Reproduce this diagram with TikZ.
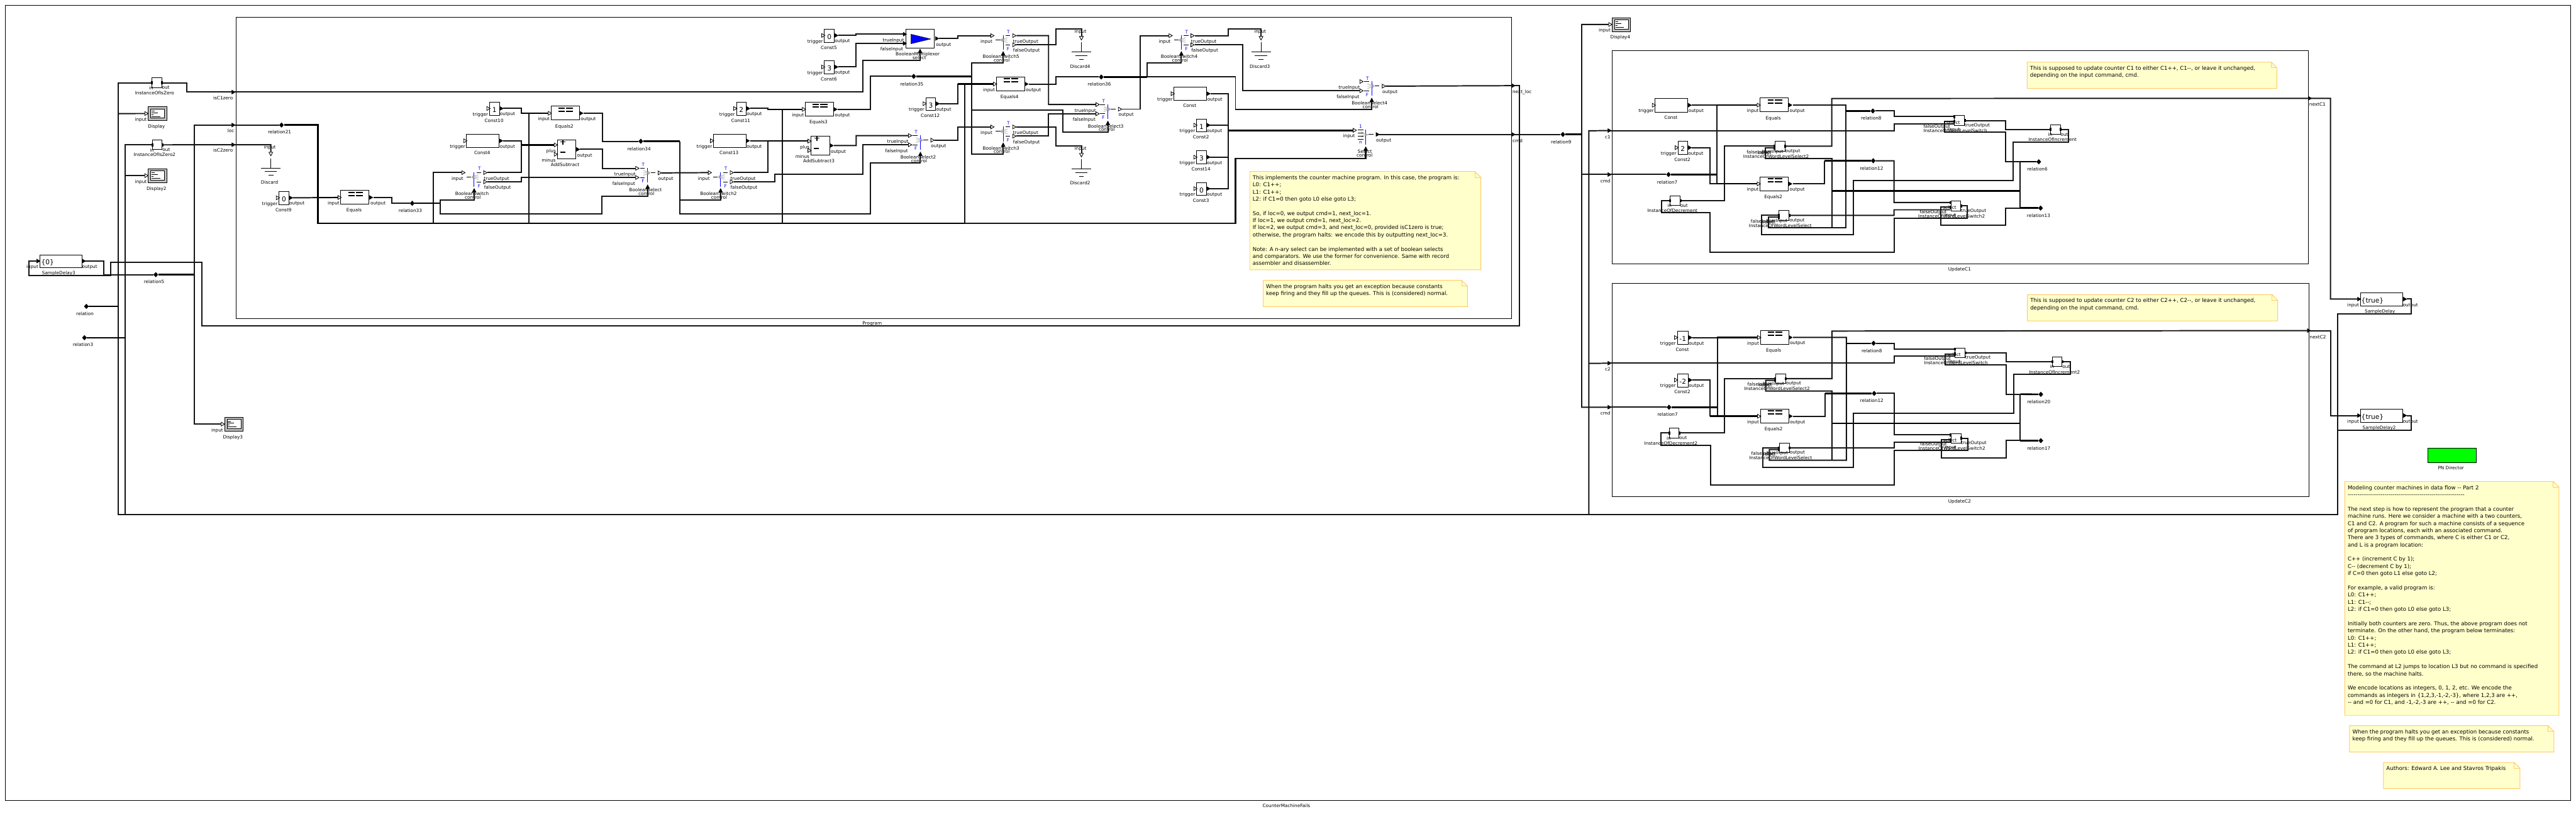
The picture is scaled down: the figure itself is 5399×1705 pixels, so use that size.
\documentclass[tikz,border=0pt]{standalone}
\usepackage{fontspec}
\newfontfamily\dv{DejaVu Sans}
\usetikzlibrary{shapes.geometric}
\definecolor{notefill}{HTML}{FFFFCC}
\definecolor{noteline}{HTML}{FFCC66}
\definecolor{wirec}{HTML}{141414}
\definecolor{dispgray}{HTML}{BFBFBF}
\definecolor{fangray}{HTML}{A8A8A8}
\tikzset{
 frame/.style={draw=black,line width=1.4pt,inner sep=0pt,outer sep=0pt,anchor=north west},
 blk/.style={draw=black,fill=white,line width=1.3pt,inner sep=0pt,outer sep=0pt,anchor=north west},
 wire/.style={draw=wirec,line width=2.6pt,line join=miter},
 bus/.style={draw=black,line width=3.4pt},
 hbus/.style={draw=black,line width=4pt},
 thin/.style={draw=black,line width=1.4pt},
 lab/.style={font=\dv\fontsize{9.6}{11}\selectfont,inner sep=0pt,text=black},
 bluelab/.style={font=\dv\fontsize{9.6}{11}\selectfont,inner sep=0pt,text=blue},
 vallab/.style={font=\dv\fontsize{14}{16}\selectfont,inner sep=0pt,text=black},
 notetxt/.style={font=\dv\fontsize{11.3}{15}\selectfont,inner sep=0pt,anchor=north west,align=left,text=black},
 rel/.style={diamond,fill=black,inner sep=0pt,minimum width=10pt,minimum height=11pt,aspect=1},
 portin/.style={draw=black,fill=white,line width=1.1pt},
 portfill/.style={draw=black,fill=black,line width=0.8pt},
 notebox/.style={draw=noteline,fill=notefill,line width=1.3pt},
 fan/.style={draw=fangray,line width=1pt},
 bluel/.style={draw=blue,line width=1.3pt},
}
\newcounter{lbc}
\newcommand\Lb[3]{\stepcounter{lbc}\node[lab] (lb\arabic{lbc}) at (#1,#2) {#3};}
\newcommand\Lc[3]{\stepcounter{lbc}\node[bluelab] (lb\arabic{lbc}) at (#1,#2) {#3};}
\newcommand\Vl[3]{\stepcounter{lbc}\node[vallab] (lb\arabic{lbc}) at (#1,#2) {#3};}
\newcommand\PIn[2]{\draw[portin] (#1,#2-4) -- (#1+7,#2) -- (#1,#2+4) -- cycle;}
\newcommand\PFl[2]{\draw[portfill] (#1,#2-4) -- (#1+7,#2) -- (#1,#2+4) -- cycle;}
\newcommand\PUp[2]{\draw[portfill] (#1-4,#2+8) -- (#1,#2) -- (#1+4,#2+8) -- cycle;}
\newcommand\ConstN[6][20.4]{%
 \node[blk,minimum width=#1,minimum height=27.4] (#2) at (#3,#4) {};
 \Vl{#3+#1/2}{#4+16}{#5}
 \PIn{#3-6}{#4+13}\PFl{#3+#1+1}{#4+13}
 \coordinate (#2-i) at (#3-6,#4+13);
 \coordinate (#2-o) at (#3+#1+8,#4+13);
 \Lb{#3-19.5}{#4+25.7}{trigger}\Lb{#3+#1+17}{#4+25.7}{output}\Lb{#3+#1/2-1}{#4+38.2}{#6}}
\newcommand\ConstB[4]{%
 \node[blk,minimum width=68.5,minimum height=28.3] (#1) at (#2,#3) {};
 \PIn{#2-6}{#3+14}\PFl{#2+69}{#3+14}
 \coordinate (#1-o) at (#2+77,#3+14);
 \Lb{#2-18.7}{#3+26.6}{trigger}\Lb{#2+85.8}{#3+26.6}{output}\Lb{#2+33}{#3+39.6}{#4}}
\newcommand\EqB[4]{%
 \node[blk,minimum width=59.4,minimum height=29] (#1) at (#2,#3) {};
 \foreach \yy in {4,10.3}{\draw[draw=black,line width=2.6pt] (#2+16,#3+\yy) -- (#2+28.5,#3+\yy) (#2+31.5,#3+\yy) -- (#2+46.4,#3+\yy);}
 \PIn{#2-6}{#3+14.8}\PFl{#2+60}{#3+14.8}
 \coordinate (#1-i) at (#2-6,#3+14.8);
 \coordinate (#1-o) at (#2+68.5,#3+14.8);
 \Lb{#2-15.2}{#3+27.6}{input}\Lb{#2+78}{#3+27.6}{output}\Lb{#2+27.8}{#3+42.5}{#4}}
\newcommand\AddB[4]{%
 \node[blk,minimum width=38.9,minimum height=39] (#1) at (#2,#3) {};
 \draw[draw=black,line width=2.4pt] (#2+7,#3+4) -- (#2+17.5,#3+4) (#2+12.2,#3-1) -- (#2+12.2,#3+9.5);
 \draw[draw=black,line width=2.4pt] (#2+6.5,#3+25.7) -- (#2+17,#3+25.7);
 \PIn{#2-6.4}{#3+10.4}\PIn{#2-6.4}{#3+30}\PFl{#2+40}{#3+19.7}
 \coordinate (#1-p) at (#2-6.4,#3+10.4);
 \coordinate (#1-m) at (#2-6.4,#3+30);
 \coordinate (#1-o) at (#2+48,#3+19.7);
 \Lb{#2-12.9}{#3+24}{plus}\Lb{#2-18}{#3+42.7}{minus}\Lb{#2+57.4}{#3+32.7}{output}\Lb{#2+16.5}{#3+52.4}{#4}}
\newcommand\SwB[4]{%
 \draw[bluel] (#2,#3-10) -- (#2,#3+20.7);
 \draw[fan] (#2-5,#3) -- (#2+9,#3-5) (#2-5,#3) -- (#2+9,#3) (#2-5,#3) -- (#2+9,#3+5) (#2-5,#3) -- (#2-1,#3-4) (#2-5,#3) -- (#2-1,#3+4);
 \draw[thin] (#2-15.5,#3) -- (#2-6,#3) (#2+5,#3-9.3) -- (#2+14.6,#3-9.3) (#2+5,#3+10) -- (#2+14.6,#3+10);
 \PIn{#2-26}{#3-9.3}\PIn{#2+20}{#3-9.3}\PIn{#2+20}{#3+10}\PUp{#2}{#3+24}
 \coordinate (#1-i) at (#2-26,#3-9.3);
 \coordinate (#1-t) at (#2+28,#3-9.3);
 \coordinate (#1-f) at (#2+28,#3+10);
 \coordinate (#1-c) at (#2,#3+32);
 \Lc{#2+11}{#3-17.5}{T}\Lc{#2+10.5}{#3+19}{F}
 \Lb{#2-35}{#3+4}{input}\Lb{#2+47}{#3+4}{trueOutput}\Lb{#2+49}{#3+22.7}{falseOutput}
 \Lb{#2-4.5}{#3+35}{#4}\Lb{#2-3}{#3+42}{control}}
\newcommand\SeB[4]{%
 \draw[bluel] (#2,#3-10) -- (#2,#3+20.5);
 \draw[fan] (#2+5,#3) -- (#2-9,#3-5) (#2+5,#3) -- (#2-9,#3) (#2+5,#3) -- (#2-9,#3+5) (#2+5,#3) -- (#2+1,#3-4) (#2+5,#3) -- (#2+1,#3+4);
 \draw[thin] (#2-16,#3-9.6) -- (#2-5.8,#3-9.6) (#2-16,#3+9.7) -- (#2-5.8,#3+9.7) (#2+6.3,#3) -- (#2+16,#3);
 \PIn{#2-25}{#3-9.6}\PIn{#2-25}{#3+9.7}\PIn{#2+22}{#3}\PUp{#2}{#3+25}
 \coordinate (#1-t) at (#2-25,#3-9.6);
 \coordinate (#1-f) at (#2-25,#3+9.7);
 \coordinate (#1-o) at (#2+29.3,#3);
 \coordinate (#1-c) at (#2,#3+33);
 \Lc{#2-9}{#3-16.6}{T}\Lc{#2-9.6}{#3+17.7}{F}
 \Lb{#2-47.3}{#3+3.7}{trueInput}\Lb{#2-49.8}{#3+22.7}{falseInput}\Lb{#2+38.2}{#3+12.7}{output}
 \Lb{#2-4.5}{#3+35.7}{#4}\Lb{#2-2.6}{#3+43}{control}}
\newcommand\Disp[4]{%
 \node[blk,fill=dispgray,minimum width=38.9,minimum height=29] (#1) at (#2,#3) {};
 \node[blk,minimum width=29,minimum height=19.5,line width=1pt] (#1-in) at (#2+5.4,#3+4.5) {};
 \draw[draw=black,line width=1pt] (#2+7,#3+8.7) -- (#2+13,#3+8.7) (#2+7,#3+12.4) -- (#2+20,#3+12.4) (#2+7,#3+16.4) -- (#2+11,#3+16.4) (#2+7,#3+20.4) -- (#2+25,#3+20.4);
 \PIn{#2-7}{#3+14.4}
 \coordinate (#1-i) at (#2-7,#3+14.4);
 \Lb{#2-15.4}{#3+27.4}{input}\Lb{#2+17.4}{#3+42}{#4}}
\newcommand\Disc[4]{%
 \draw[portin] (#2-4,#3-33) -- (#2+4,#3-33) -- (#2,#3-25.5) -- cycle;
 \draw[thin] (#2,#3-20.4) -- (#2,#3) (#2-20.5,#3) -- (#2+20.5,#3) (#2-13,#3+7) -- (#2+13,#3+7) (#2-5.2,#3+15) -- (#2+5.2,#3+15);
 \coordinate (#1-i) at (#2,#3-33);
 \Lb{#2-2}{#3-42.3}{input}\Lb{#2-2.6}{#3+29.6}{#4}}
\newcommand\SqP[2]{\fill[black] (#1-2,#2-3) rectangle (#1+2,#2+3);}
\newcommand\Inst[8]{%
 \node[blk,minimum width=#4,minimum height=#5] (#1) at (#2,#3) {};
 \SqP{#2}{#3+10.2}\SqP{#2+#4+1}{#3+10.2}
 \coordinate (#1-i) at (#2,#3+10.2);
 \coordinate (#1-o) at (#2+#4+2,#3+10.2);
 \Lb{#2-1}{#3+21}{in}\Lb{#2+#4+8.5}{#3+20.5}{out}\Lb{#7}{#8}{#6}}
\newcommand\ExtP[6]{%
 \PFl{#2}{#3}\coordinate (#1) at (#2+4,#3);\Lb{#5}{#6}{#4}}
\newcommand\WLSel[4]{%
 \node[blk,minimum width=21,minimum height=20.2] (#1) at (#2,#3) {};
 \SqP{#2-1}{#3+10}\SqP{#2-1}{#3+13.8}\SqP{#2+21.5}{#3+10}
 \coordinate (#1-t) at (#2,#3+10);
 \coordinate (#1-f) at (#2,#3+13.6);
 \coordinate (#1-o) at (#2+23,#3+10);
 \Lb{#2-35.4}{#3+23}{falseInput}\Lb{#2-22}{#3+23}{select}\Lb{#2-4.6}{#3+21.6}{trueInput}\Lb{#2+37.5}{#3+20.6}{output}\Lb{#2+2.5}{#3+31.5}{#4}}
\newcommand\WLSw[7]{%
 \node[blk,minimum width=21,minimum height=20.3] (#1) at (#2,#3) {};
 \SqP{#2-1}{#3+#5}\SqP{#2-1}{#3+#6}\SqP{#2+21.5}{#3+10}
 \coordinate (#1-s) at (#2-1,#3+#5);
 \coordinate (#1-l) at (#2-1,#3+#6);
 \coordinate (#1-i) at (#2-1,#3+#7);
 \coordinate (#1-t) at (#2+23,#3+10);
 \Lb{#2-2.8}{#3+13.9}{select}\Lb{#2-37.2}{#3+23.2}{falseOutput}\Lb{#2-1.5}{#3+29.5}{input}\Lb{#2+47.5}{#3+20.4}{trueOutput}\Lb{#2+1.5}{#3+31.1}{#4}}
\newcommand\Note[8]{%
 \draw[notebox] (#2,#3) -- (#6,#3) -- (#4,#7) -- (#4,#5) -- (#2,#5) -- cycle;
 \draw[notebox,fill=none] (#6,#3) -- (#6,#7) -- (#4,#7);
 \node[notetxt] (#1) at (#2+6,#3+6) {\strut #8};}
\begin{document}
\begin{tikzpicture}[x=1pt,y=-1pt]
\fill[white] (0,0) rectangle (5399,1705);
\useasboundingbox (0,0) rectangle (5399,1705);
% containers
\node[frame,minimum width=5376.5,minimum height=1666.5] (top) at (11.5,11) {};
\node[frame,minimum width=2672.5,minimum height=630.5] (prog) at (495.5,36.5) {};
\node[frame,minimum width=1458.6,minimum height=446.8] (upd1) at (3379.3,106.4) {};
\node[frame,minimum width=1459.7,minimum height=447] (upd2) at (3379.3,593.3) {};
\Lb{1828}{678}{Program}
\Lb{2696}{1688}{CounterMachineFails}
\Lb{4107}{564.6}{UpdateC1}
\Lb{4107}{1051.7}{UpdateC2}
% outer blocks
\node[blk,minimum width=88,minimum height=27] (SD3) at (83.5,534) {};
\Vl{100}{549.5}{\{0\}}
\PFl{77}{547}\PFl{172.5}{547}
\coordinate (SD3-i) at (77,547);\coordinate (SD3-o) at (179,547);
\Lb{68}{560}{input}\Lb{188}{560}{output}\Lb{123}{572.5}{SampleDelay3}
\node[blk,minimum width=88.5,minimum height=28] (SD1) at (4947.5,613.3) {};
\Vl{4972.4}{630}{\{true\}}
\PFl{4941}{626.7}\PFl{5037}{626.7}
\coordinate (SD1-i) at (4941,626.7);\coordinate (SD1-o) at (5044,626.7);
\Lb{4931.8}{640}{input}\Lb{5052}{640}{output}\Lb{4988}{652.7}{SampleDelay}
\node[blk,minimum width=88.5,minimum height=28] (SD2) at (4947.5,857.3) {};
\Vl{4972.4}{874}{\{true\}}
\PFl{4941}{870.7}\PFl{5037}{870.7}
\coordinate (SD2-i) at (4941,870.7);\coordinate (SD2-o) at (5044,870.7);
\Lb{4931.8}{884}{input}\Lb{5052}{884}{output}\Lb{4986.5}{896.7}{SampleDelay2}
\node[blk,draw=black,fill=green,minimum width=100.5,minimum height=30] (pnd) at (5089,939.3) {};
\Lb{5137}{981}{PN Director}
\Inst{IsZ1}{318}{163.3}{21}{20.5}{InstanceOfIsZero}{324}{194.4}
\Inst{IsZ2}{319.5}{293.3}{20.5}{20}{InstanceOfIsZero2}{324}{324.5}
\Disp{Disp1}{310.6}{223.5}{Display}
\Disp{Disp2}{310.6}{353.6}{Display2}
\Disp{Disp3}{470.7}{874.3}{Display3}
\Disp{Disp4}{3378.6}{36.9}{Display4}
\node[rel] (rel0) at (181,642) {};\Lb{178}{657.7}{relation}
\node[rel] (rel3) at (177,707.6) {};\Lb{174}{722.5}{relation3}
\node[rel] (rel5) at (326.5,575.5) {};\Lb{323}{590}{relation5}
\node[rel] (rel9) at (3275.6,281.7) {};\Lb{3272}{297.7}{relation9}
% program ports
\ExtP{isC1}{486}{193}{isC1zero}{467.5}{205.6}
\ExtP{loc}{486}{262}{loc}{484}{274}
\ExtP{isC2}{486}{303.3}{isC2zero}{467.5}{315}
\ExtP{nxloc}{3168.5}{179.5}{next\_loc}{3190}{192.7}
\ExtP{cmdout}{3168.5}{281.7}{cmd}{3180.6}{295}
% program blocks
\Disc{Disc1}{567.6}{352}{Discard}
\Disc{Disc4}{2266.5}{109.3}{Discard4}
\Disc{Disc2}{2266.5}{354.3}{Discard2}
\Disc{Disc3}{2643}{109.3}{Discard3}
\ConstN{C9}{585}{401.5}{0}{Const9}
\ConstN{C10}{1026.3}{214.3}{1}{Const10}
\ConstN{C11}{1543.5}{214.3}{2}{Const11}
\ConstN{C5}{1728}{61.3}{0}{Const5}
\ConstN{C6}{1728}{127.3}{3}{Const6}
\ConstN{C12}{1940.6}{204.3}{3}{Const12}
\ConstN{C2}{2508}{249.3}{1}{Const2}
\ConstN{C14}{2508}{316.3}{3}{Const14}
\ConstN{C3}{2508}{382.3}{0}{Const3}
\ConstB{C4}{977.8}{281}{Const4}
\ConstB{C13}{1495}{281}{Const13}
\ConstB{C0}{2460.5}{182.3}{Const}
\EqB{Eq}{714.3}{399}{Equals}
\EqB{Eq2}{1155}{222.5}{Equals2}
\EqB{Eq3}{1687.6}{214.3}{Equals3}
\EqB{Eq4}{2088}{161.3}{Equals4}
\AddB{Add1}{1167.9}{293.3}{AddSubtract}
\AddB{Add3}{1699.7}{285.3}{AddSubtract3}
\SwB{Sw1}{993.8}{371}{BooleanSwitch}
\SwB{Sw2}{1510.3}{371}{BooleanSwitch2}
\SwB{Sw5}{2102.5}{84}{BooleanSwitch5}
\SwB{Sw3}{2102.5}{275.3}{BooleanSwitch3}
\SwB{Sw4}{2476}{84}{BooleanSwitch4}
\SeB{Se1}{1357.3}{362.3}{BooleanSelect}
\SeB{Se2}{1929}{293.7}{BooleanSelect2}
\SeB{Se3}{2322}{228.7}{BooleanSelect3}
\SeB{Se4}{2875}{180.5}{BooleanSelect4}
% multiplexor
\node[blk,minimum width=59.4,minimum height=39.4] (Mux) at (1899,61.3) {};
\fill[blue,draw=black,line width=0.6pt] (1909.3,71.7) -- (1950.8,81.7) -- (1909.3,91.7) -- cycle;
\PFl{1893}{71.7}\PFl{1893}{91}\PFl{1960.5}{80.7}\PUp{1928.4}{103}
\coordinate (Mux-t) at (1893,71.7);\coordinate (Mux-f) at (1893,91);\coordinate (Mux-o) at (1968,80.7);\coordinate (Mux-c) at (1928.4,111);
\Lb{1872.3}{85}{trueInput}\Lb{1869}{104}{falseInput}\Lb{1977.5}{94}{output}\Lb{1923.3}{114}{BooleanMultiplexor}\Lb{1927}{121}{select}
% n-ary select
\draw[bluel] (2862.4,272) -- (2862.4,303.3);
\draw[fan] (2867.4,282.3) -- (2853.4,277.3) (2867.4,282.3) -- (2853.4,282.3) (2867.4,282.3) -- (2853.4,287.3);
\draw[thin] (2846.4,272.7) -- (2858,272.7) (2846.4,278.5) -- (2858,278.5) (2846.4,285) -- (2858,285) (2846.4,291.7) -- (2858,291.7) (2868.7,282) -- (2878.3,282);
\PIn{2836}{273}\PFl{2884}{281.7}\PUp{2862.4}{307.5}
\coordinate (Sel-i) at (2836,273);\coordinate (Sel-o) at (2891,281.7);\coordinate (Sel-c) at (2862.4,315.5);
\Lc{2851.5}{265}{1}\Lc{2851.5}{298.7}{n}\Lb{2827.3}{286}{input}\Lb{2900}{295}{output}\Lb{2860.5}{317.7}{Select}\Lb{2860}{325}{control}
% relations in program
\node[rel] (rel21) at (590,262) {};\Lb{586}{276.5}{relation21}
\node[rel] (rel33) at (864,426) {};\Lb{860}{441.3}{relation33}
\node[rel] (rel34) at (1343,296) {};\Lb{1339.4}{312}{relation34}
\node[rel] (rel35) at (1915,160) {};\Lb{1911}{175.7}{relation35}
\node[rel] (rel36) at (2308,161.3) {};\Lb{2304}{176.7}{relation36}
% notes
\Note{nA}{2619.4}{359.3}{3103.6}{565.3}{3091.3}{371.7}{This implements the counter machine program. In this case, the program is:\\L0: C1++;\\L1: C1++;\\L2: if C1=0 then goto L0 else goto L3;\\\strut\\So, if loc=0, we output cmd=1, next\_loc=1.\\If loc=1, we output cmd=1, next\_loc=2.\\If loc=2, we output cmd=3, and next\_loc=0, provided isC1zero is true;\\otherwise, the program halts: we encode this by outputting next\_loc=3.\\\strut\\Note: A n-ary select can be implemented with a set of boolean selects\\and comparators. We use the former for convenience. Same with record\\assembler and disassembler.}
\Note{nB}{2647.4}{587.3}{3075.5}{642.3}{3063.3}{599.3}{When the program halts you get an exception because constants\\keep firing and they fill up the queues. This is (considered) normal.}
\Note{nC}{4248.6}{130.3}{4772}{185.3}{4760.7}{142.3}{This is supposed to update counter C1 to either C1++, C1--, or leave it unchanged,\\depending on the input command, cmd.}
\Note{nD}{4249}{617.3}{4773.6}{672.3}{4762}{629.3}{This is supposed to update counter C2 to either C2++, C2--, or leave it unchanged,\\depending on the input command, cmd.}
\Note{nE}{4914.3}{1009}{5363.3}{1499}{5351.3}{1020.7}{Modeling counter machines in data flow -- Part 2\\------------------------------------------------------------\\\strut\\The next step is how to represent the program that a counter\\machine runs. Here we consider a machine with a two counters,\\C1 and C2. A program for such a machine consists of a sequence\\of program locations, each with an associated command.\\There are 3 types of commands, where C is either C1 or C2,\\and L is a program location:\\\strut\\C++ (increment C by 1);\\C-- (decrement C by 1);\\if C=0 then goto L1 else goto L2;\\\strut\\For example, a valid program is:\\L0: C1++;\\L1: C1--;\\L2: if C1=0 then goto L0 else goto L3;\\\strut\\Initially both counters are zero. Thus, the above program does not\\terminate. On the other hand, the program below terminates:\\L0: C1++;\\L1: C1++;\\L2: if C1=0 then goto L0 else goto L3;\\\strut\\The command at L2 jumps to location L3 but no command is specified\\there, so the machine halts.\\\strut\\We encode locations as integers, 0, 1, 2, etc. We encode the\\commands as integers in \{1,2,3,-1,-2,-3\}, where 1,2,3 are ++,\\-- and =0 for C1, and -1,-2,-3 are ++, -- and =0 for C2.}
\Note{nF}{4924.3}{1520.7}{5352.7}{1575.5}{5340.3}{1532.7}{When the program halts you get an exception because constants\\keep firing and they fill up the queues. This is (considered) normal.}
\Note{nG}{4995.3}{1597.6}{5281.3}{1652.4}{5269.3}{1609.6}{Authors: Edward A. Lee and Stavros Tripakis}
% UpdateC1
\ExtP{Ac1}{3370}{273.6}{c1}{3369.5}{286.8}
\ExtP{Acmd}{3370}{365.7}{cmd}{3364.6}{379}
\ExtP{Anx}{4838}{206}{nextC1}{4857}{219}
\ConstB{AC0}{3469}{206.4}{Const}
\ConstN{AC2}{3516.8}{296.4}{2}{Const2}
\EqB{AEq}{3688.8}{205.4}{Equals}
\EqB{AEq2}{3688.8}{370.4}{Equals2}
\Inst{ADec}{3500}{410}{21}{20.5}{InstanceOfDecrement}{3505}{441.8}
\Inst{AInc}{4297.9}{261}{20.4}{20.4}{InstanceOfIncrement}{4302}{292.9}
\WLSel{AWS2}{3720}{296.4}{InstanceOfWordLevelSelect2}
\WLSel{AWS1}{3728.8}{441.4}{InstanceOfWordLevelSelect}
\WLSw{ASw1}{4096.5}{242.5}{InstanceOfWordLevelSwitch}{1.8}{12.1}{16.8}
\WLSw{ASw2}{4088.8}{421.4}{InstanceOfWordLevelSwitch2}{2.9}{12.6}{18.2}
\node[rel] (Ar7) at (3497,365.7) {};\Lb{3494.4}{381.8}{relation7}
\node[rel] (Ar8) at (3925.3,232.5) {};\Lb{3921.8}{247.9}{relation8}
\node[rel] (Ar12) at (3926,336.8) {};\Lb{3922.5}{352.9}{relation12}
\node[rel] (Ar6) at (4273,339) {};\Lb{4270}{354.6}{relation6}
\node[rel] (Ar13) at (4276.8,436) {};\Lb{4272.6}{451.8}{relation13}
% UpdateC2
\ExtP{Bc2}{3370}{761}{c2}{3369.5}{774}
\ExtP{Bcmd}{3370}{853.3}{cmd}{3364.6}{866}
\ExtP{Bnx}{4836}{692.7}{nextC2}{4858}{706}
\ConstN[23]{BC0}{3515.4}{694.3}{-1}{Const}
\ConstN[23]{BC2}{3515.4}{783.3}{-2}{Const2}
\EqB{BEq}{3689.5}{692.3}{Equals}
\EqB{BEq2}{3689.5}{857.3}{Equals2}
\Inst{BDec}{3498.6}{897.1}{20.4}{20.4}{InstanceOfDecrement2}{3502}{929}
\Inst{BInc}{4302}{747.5}{19.8}{20}{InstanceOfIncrement2}{4306}{780}
\WLSel{BWS2}{3721.8}{783.3}{InstanceOfWordLevelSelect2}
\WLSel{BWS1}{3729.5}{928.3}{InstanceOfWordLevelSelect}
\WLSw{BSw1}{4097.9}{729.3}{InstanceOfWordLevelSwitch}{2.4}{12.4}{17}
\WLSw{BSw2}{4089.5}{908.3}{InstanceOfWordLevelSwitch2}{3}{13.4}{18.4}
\node[rel] (Br7) at (3498,853.3) {};\Lb{3495}{869}{relation7}
\node[rel] (Br8) at (3926.7,719.3) {};\Lb{3923}{735}{relation8}
\node[rel] (Br12) at (3928,824.3) {};\Lb{3923}{840}{relation12}
\node[rel] (Br20) at (4277.3,826.3) {};\Lb{4273}{842}{relation20}
\node[rel] (Br17) at (4277.3,923.3) {};\Lb{4273}{939}{relation17}
% ---------------- wires: outer
\draw[wire] (IsZ1-i) -- (247.5,173.5) -- (247.5,1078) -- (4899.5,1078) -- (4899.5,657.3) -- (5053.6,657.3) -- (5053.6,626.7) -- (SD1-o);
\draw[wire] (IsZ2-i) -- (262,303.5) -- (262,1078.6) -- (4899.5,1078.6) -- (4899.5,901.7) -- (5053.6,901.7) -- (5053.6,870.7) -- (SD2-o);
\draw[wire] (247.5,238) -- (Disp1-i);
\draw[wire] (262,368) -- (Disp2-i);
\draw[bus] (rel0) -- (247.5,642);
\draw[bus] (rel3) -- (262,707.6);
\draw[wire] (3330,1078) -- (3330,274) -- (Ac1);
\draw[wire] (3330,761.5) -- (Bc2);
\draw[wire] (Disp4-i) -- (3315,51.3) -- (3315,853.3) -- (Bcmd);
\draw[wire] (3315,365.7) -- (Acmd);
\draw[wire] (SD3-o) -- (217.5,547) -- (217.5,575.5) -- (rel5);
\draw[bus] (rel5) -- (407.5,575.5);
\draw[wire] (Disp3-i) -- (407.5,888.7) -- (407.5,262) -- (loc) -- (rel21);
\draw[wire] (IsZ1-o) -- (392,173.5) -- (392,193) -- (isC1) -- (1809,193) -- (1809,127) -- (1928.4,127) -- (Mux-c);
\draw[wire] (IsZ2-o) -- (isC2) -- (567.6,303.3) -- (Disc1-i);
\draw[wire] (nxloc) -- (3184,179.5) -- (3184,683) -- (423,683) -- (423,549.5) -- (232,549.5) -- (232,577.5) -- (61,577.5) -- (61,547) -- (SD3-i);
\draw[wire] (cmdout) -- (rel9);
\draw[bus] (rel9) -- (3315,281.7);
% program wires
\draw[hbus,line width=3.8pt] (rel21) -- (666.5,262) -- (666.5,468) -- (2021.5,468);
\draw[wire,line width=3pt] (2021.5,468) -- (2589.4,468) -- (2589.4,331.7) -- (2862.4,331.7) -- (Sel-c);
\draw[wire] (907.6,468) -- (907.6,361.7) -- (Sw1-i);
\draw[wire] (1108,468) -- (1108,237.3);
\draw[wire] (1639.7,468) -- (1639.7,229);
\draw[wire] (2021.5,468) -- (2021.5,176);
\draw[wire] (C9-o) -- (Eq-i);
\draw[bus,line width=3pt] (666.5,413.9) -- (708,413.9);
\draw[wire] (Eq-o) -- (821.4,413.8) -- (821.4,426) -- (rel33);
\draw[bus] (rel33) -- (922.4,426);
\draw[wire] (Sw1-c) -- (993.8,419) -- (922.4,419) -- (922.4,448) -- (1262,448) -- (1262,411.7) -- (1357.3,411.7) -- (Se1-c);
\draw[wire] (C4-o) -- (1092.6,295) -- (1092.6,361.7) -- (Sw1-t);
\draw[bus,line width=3pt] (1092.6,303.7) -- (Add1-p);
\draw[wire] (C10-o) -- (1092.6,227.3) -- (1092.6,237.3) -- (Eq2-i);
\draw[bus,line width=3pt] (1092.6,237.3) -- (Eq2-i);
\draw[wire] (Sw1-f) -- (1092.6,381) -- (1092.6,372) -- (Se1-f);
\draw[wire] (Add1-o) -- (1263,313) -- (1263,352.7) -- (Se1-t);
\draw[wire] (Eq2-o) -- (1263,237.3) -- (1263,296) -- (rel34);
\draw[bus] (rel34) -- (1425,296);
\draw[wire] (1425,296) -- (1425,419.3) -- (1510.3,419.3) -- (Sw2-c);
\draw[wire] (1425,419.3) -- (1425,448.7) -- (1824.5,448.7) -- (1824.5,342) -- (1929,342) -- (Se2-c);
\draw[wire] (Se1-o) -- (Sw2-i);
\draw[wire] (C11-o) -- (1609,227.3) -- (1609,229.1) -- (Eq3-i);
\draw[bus,line width=3pt] (1609,229.1) -- (Eq3-i);
\draw[wire] (C13-o) -- (1609,295) -- (1609,361.7) -- (Sw2-t);
\draw[bus,line width=3pt] (1609,295.7) -- (Add3-p);
\draw[wire] (Sw2-f) -- (1624,381) -- (1624,364.5) -- (1809,364.5) -- (1809,303.4) -- (Se2-f);
\draw[wire] (Add3-o) -- (1794.5,305) -- (1794.5,284.1) -- (Se2-t);
\draw[wire] (Eq3-o) -- (1824.5,229.1) -- (1824.5,160) -- (rel35);
\draw[bus] (rel35) -- (2037,160);
\draw[wire] (Sw5-c) -- (2102.5,132.3) -- (2037,132.3) -- (2037,323.3) -- (2102.5,323.3) -- (Sw3-c);
\draw[wire] (2037,231.3) -- (2227.6,231.3) -- (2227.6,277.3) -- (2322,277.3) -- (Se3-c);
\draw[wire] (C5-o) -- (1794.5,74.3) -- (1794.5,71.7) -- (Mux-t);
\draw[wire] (C6-o) -- (1794.5,140.3) -- (1794.5,91) -- (Mux-f);
\draw[wire] (Mux-o) -- (2007,80.7) -- (2007,74.7) -- (Sw5-i);
\draw[wire] (C12-o) -- (2007,217.3) -- (2007,176.1) -- (Eq4-i);
\draw[bus,line width=3pt] (2007,176.1) -- (Eq4-i);
\draw[wire] (Se2-o) -- (2007,293.7) -- (2007,266) -- (Sw3-i);
\draw[wire] (Sw5-t) -- (2197.6,74.7) -- (2197.6,219.1) -- (Se3-t);
\draw[wire] (Sw5-f) -- (2213,94) -- (2213,60.7) -- (2266.5,60.7) -- (Disc4-i);
\draw[wire] (Sw3-t) -- (2213,266) -- (2213,305.3) -- (2266.5,305.3) -- (Disc2-i);
\draw[wire] (Sw3-f) -- (2197.6,285.3) -- (2197.6,238.4) -- (Se3-f);
\draw[wire] (Se3-o) -- (2389.5,228.7) -- (2389.5,74.7) -- (Sw4-i);
\draw[wire] (Eq4-o) -- (2213,176.1) -- (2213,161.3) -- (rel36);
\draw[bus] (rel36) -- (2404,161.3);
\draw[wire] (Sw4-c) -- (2476,132.3) -- (2404,132.3) -- (2404,161);
\draw[wire] (2404,160.8) -- (2589.4,160.8) -- (2589.4,229) -- (2875,229) -- (Se4-c);
\draw[wire] (Sw4-t) -- (2574,74.7) -- (2574,60.7) -- (2643,60.7) -- (Disc3-i);
\draw[wire] (Sw4-f) -- (2604,94) -- (2604,190.2) -- (Se4-f);
\draw[wire] (C0-o) -- (2574,196.3) -- (2574,395.3) -- (C3-o);
\draw[wire] (C2-o) -- (2574,262.3);
\draw[wire] (C14-o) -- (2574,329.3);
\draw[hbus] (2574,273) -- (Sel-i);
\draw[wire] (Se4-o) -- (nxloc);
\draw[wire] (Sel-o) -- (cmdout);
% UpdateC1 wires
\draw[wire] (Ac1) -- (3969.5,273.6) -- (3969.5,259.3) -- (ASw1-i);
\draw[wire] (Acmd) -- (Ar7);
\draw[bus] (Ar7) -- (3599,365.7);
\draw[wire] (AEq-i) -- (3599,220.2) -- (3599,384.3);
\draw[bus,line width=3pt] (3599,220.2) -- (AEq-i);
\draw[bus,line width=3pt] (3599,385.2) -- (AEq2-i);
\draw[wire] (AC0-o) -- (3599,220.4);
\draw[wire] (AC2-o) -- (3583.5,309.4) -- (3583.5,385.2) -- (3599,385.2);
\draw[wire] (AEq-o) -- (3868.4,220.2) -- (3868.4,477) -- (3707,477) -- (3707,455) -- (AWS1-f);
\draw[bus,line width=3pt] (3868.4,232.5) -- (Ar8);
\draw[wire] (Ar8) -- (3969.5,232.5) -- (3969.5,244.3) -- (ASw1-s);
\draw[wire] (AEq2-o) -- (3823.5,385.2) -- (3823.5,336.8);
\draw[bus] (3823.5,336.8) -- (Ar12);
\draw[wire] (Ar12) -- (3969.5,336.8) -- (3969.5,424.3) -- (ASw2-s);
\draw[wire] (AWS2-o) -- (3839,306.4) -- (3839,206.4) -- (Anx) -- (4884.4,206) -- (4884.4,626.7) -- (SD1-i);
\draw[wire] (AWS2-f) -- (3700,310) -- (3700,332.5) -- (3839,332.5) -- (3839,477);
\draw[bus] (3839,400.4) -- (4234,400.4);
\draw[wire] (ADec-o) -- (3613.7,420.2) -- (3613.7,306.4) -- (AWS2-t);
\draw[wire] (ASw1-t) -- (4203.9,252.5) -- (4203.9,271.2) -- (AInc-i);
\draw[wire] (AInc-o) -- (4335.8,271.2) -- (4335.8,297.4) -- (4218.6,297.4) -- (4218.6,378.9) -- (3883.9,378.9) -- (3883.9,492) -- (3692.3,492) -- (3692.3,451.4) -- (AWS1-t);
\draw[wire] (ASw1-l) -- (4075.4,254.6) -- (4075.4,277) -- (4203.9,277) -- (4203.9,339) -- (4234,339);
\draw[bus] (4234,339) -- (Ar6);
\draw[wire] (4234,339) -- (4234,436);
\draw[bus] (4234,436) -- (Ar13);
\draw[wire] (4234,436) -- (4203.9,436) -- (4203.9,472.5) -- (4067.7,472.5) -- (4067.7,434) -- (ASw2-l);
\draw[wire] (AWS1-o) -- (3969.5,451.4) -- (3969.5,439.6) -- (ASw2-i);
\draw[wire] (ADec-i) -- (3482.5,420.2) -- (3482.5,446) -- (3583.5,446) -- (3583.5,528.9) -- (3969.5,528.9) -- (3969.5,457.5) -- (4123,457.5) -- (4123,431.4) -- (ASw2-t);
% UpdateC2 wires
\draw[wire] (Bc2) -- (3970,761) -- (3970,746.3) -- (BSw1-i);
\draw[wire] (Bcmd) -- (Br7);
\draw[bus] (Br7) -- (3599.6,853.3);
\draw[wire] (BEq-i) -- (3599.6,707.1) -- (3599.6,872.1);
\draw[bus,line width=3pt] (3599.6,707.1) -- (BEq-i);
\draw[bus,line width=3pt] (3584.2,872.1) -- (BEq2-i);
\draw[wire] (BC0-o) -- (3599.6,707.3);
\draw[wire] (BC2-o) -- (3584.2,796.3) -- (3584.2,872.1);
\draw[wire] (BEq-o) -- (3869.8,707.1) -- (3869.8,964.3) -- (3708.4,964.3) -- (3708.4,941.9) -- (BWS1-f);
\draw[bus,line width=3pt] (3869.8,719.3) -- (Br8);
\draw[wire] (Br8) -- (3970,719.3) -- (3970,731.7) -- (BSw1-s);
\draw[wire] (BEq2-o) -- (3825,872.1) -- (3825,824.3);
\draw[bus] (3825,824.3) -- (Br12);
\draw[wire] (Br12) -- (3970,824.3) -- (3970,911.3) -- (BSw2-s);
\draw[wire] (BWS2-o) -- (3839.6,793.3) -- (3839.6,693.7) -- (Bnx);
\draw[wire] (Bnx) -- (4884.4,692.7) -- (4884.4,870.7) -- (SD2-i);
\draw[wire] (BWS2-f) -- (3700.7,796.9) -- (3700.7,819.3) -- (3839.6,819.3) -- (3839.6,964.3);
\draw[bus] (3839.6,887.3) -- (4234.2,887.3);
\draw[wire] (BDec-o) -- (3614.4,907.3) -- (3614.4,793.3) -- (BWS2-t);
\draw[wire] (BSw1-t) -- (4204.6,739.3) -- (4204.6,757.7) -- (BInc-i);
\draw[wire] (BInc-o) -- (4339.3,757.7) -- (4339.3,784.3) -- (4220,784.3) -- (4220,866.3) -- (3884.6,866.3) -- (3884.6,979) -- (3694.4,979) -- (3694.4,938.3) -- (BWS1-t);
\draw[wire] (BSw1-l) -- (4076.8,741.7) -- (4076.8,764) -- (4204.6,764) -- (4204.6,826) -- (4234.2,826);
\draw[bus] (4234.2,826) -- (Br20);
\draw[wire] (4234.2,826) -- (4234.2,923.3);
\draw[bus] (4234.2,923.3) -- (Br17);
\draw[wire] (4234.2,923.3) -- (4204.6,923.3) -- (4204.6,959.3) -- (4069,959.3) -- (4069,921.7) -- (BSw2-l);
\draw[wire] (BWS1-o) -- (3970,938.3) -- (3970,926.7) -- (BSw2-i);
\draw[wire] (BDec-i) -- (3481,907.3) -- (3481,933.3) -- (3585,933.3) -- (3585,1016) -- (3970,1016) -- (3970,944) -- (4124.6,944) -- (4124.6,918.3) -- (BSw2-t);
\end{tikzpicture}
\end{document}
